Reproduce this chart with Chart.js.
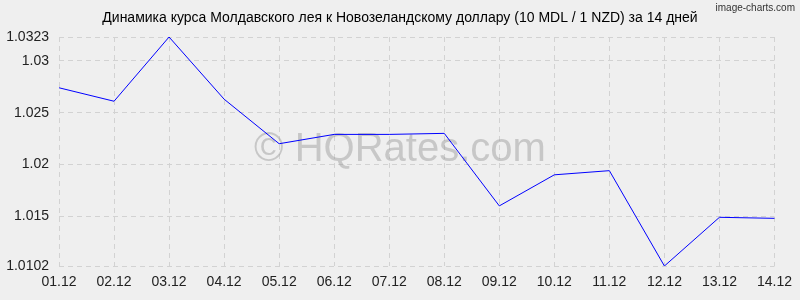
<!DOCTYPE html>
<html><head><meta charset="utf-8">
<script src="https://cdn.jsdelivr.net/npm/chart.js@4/dist/chart.umd.min.js"></script>
<style>html,body{margin:0;padding:0;background:#efefef}#wrap{width:800px;height:300px}</style>
</head><body><div id="wrap"><canvas id="c" width="800" height="300"></canvas></div>
<script>
const categories = ["01.12","02.12","03.12","04.12","05.12","06.12","07.12","08.12","09.12","10.12","11.12","12.12","13.12","14.12"];
const rates = [1.0274,1.0261,1.0323,1.0263,1.0220,1.0229,1.0229,1.0230,1.0160,1.0190,1.0194,1.0102,1.0149,1.0148];
const yTicks = [1.0102,1.015,1.02,1.025,1.03,1.0323];
const titleText = "Динамика курса Молдавского лея к Новозеландскому доллару (10 MDL / 1 NZD) за 14 дней";

const deco = {
  id:'deco',
  beforeDraw(chart){
    const ctx = chart.ctx;
    ctx.save();
    ctx.fillStyle = '#efefef';
    ctx.fillRect(0,0,chart.width,chart.height);
    ctx.restore();
  },
  beforeDatasetsDraw(chart){
    const ctx = chart.ctx;
    ctx.save();
    ctx.fillStyle = 'rgba(150,150,150,0.45)';
    ctx.font = '40px "Liberation Sans", Arial, sans-serif';
    ctx.textAlign = 'center'; ctx.textBaseline = 'middle';
    ctx.fillText('© HQRates.com', 400, 150);
    ctx.restore();
  },
  afterDraw(chart){
    const ctx = chart.ctx;
    ctx.save();
    ctx.fillStyle = '#000';
    ctx.font = '14px "Liberation Sans", Arial, sans-serif';
    ctx.textAlign = 'center'; ctx.textBaseline = 'middle';
    ctx.fillText(titleText, 400, 18);
    ctx.fillStyle = '#333';
    ctx.font = '10px "Liberation Sans", Arial, sans-serif';
    ctx.textAlign = 'right';
    ctx.fillText('image-charts.com', 795, 8);
    ctx.restore();
  }
};

new Chart(document.getElementById('c'), {
  type:'line',
  data:{labels:categories, datasets:[{data:rates, borderColor:'#0000ff', borderWidth:1, pointRadius:0, tension:0, fill:false}]},
  options:{
    responsive:false, animation:false,
    layout:{padding:{top:37,right:21,left:0,bottom:0}},
    plugins:{legend:{display:false}, tooltip:{enabled:false}, title:{display:false}},
    scales:{
      x:{
        offset:false,
        border:{display:false, dash:[5,4]},
        grid:{color:'#d2d2d2', drawTicks:false},
        ticks:{color:'#222', font:{size:14, family:'"Liberation Sans", Arial, sans-serif'}, padding:8, maxRotation:0, autoSkip:false},
        afterFit(s){ s.height = 34; }
      },
      y:{
        min:1.0102, max:1.0323,
        border:{display:false, dash:[5,4]},
        grid:{color:'#d2d2d2', drawTicks:false},
        afterBuildTicks(s){ s.ticks = yTicks.map(v=>({value:v})); },
        ticks:{color:'#222', font:{size:14, family:'"Liberation Sans", Arial, sans-serif'}, padding:10, callback:(v)=>String(+v.toFixed(4))},
        afterFit(s){ s.width = 59; }
      }
    }
  },
  plugins:[deco]
});
</script></body></html>
